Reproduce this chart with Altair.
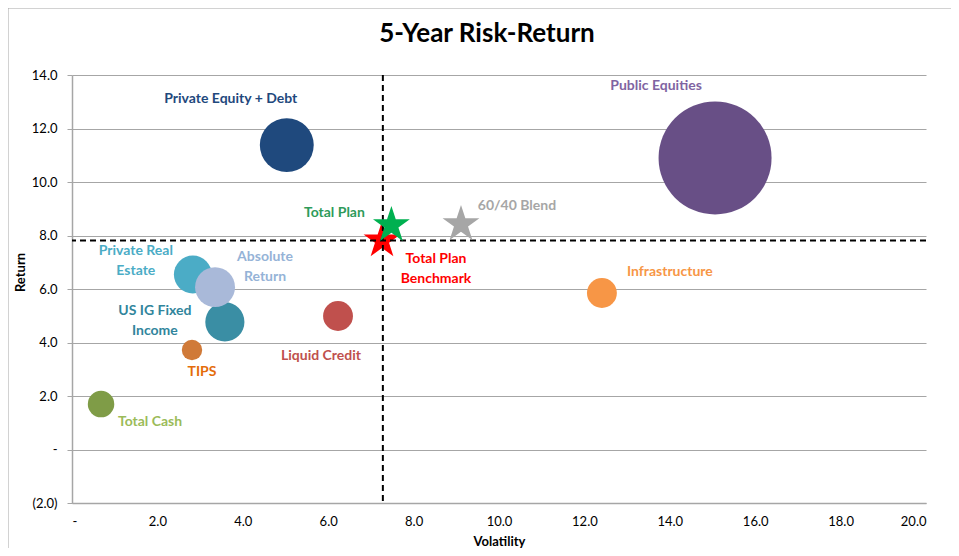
import altair as alt
import pandas as pd

# ---- data ----
names = ["Private Equity + Debt", "Public Equities", "Private Real Estate",
         "US IG Fixed Income", "Absolute Return", "TIPS", "Total Cash",
         "Liquid Credit", "Infrastructure"]
labels = ["Private Equity + Debt", "Public Equities", "Private Real\nEstate",
          "US IG Fixed\nIncome", "Absolute\nReturn", "TIPS", "Total Cash",
          "Liquid Credit", "Infrastructure"]
volatility = [5.03, 15.06, 2.83, 3.58, 3.35, 2.81, 0.68, 6.23, 12.41]
returns = [11.38, 10.90, 6.54, 4.77, 6.07, 3.72, 1.70, 4.99, 5.85]
weights = [9.1, 40.0, 4.5, 4.8, 5.0, 1.3, 2.2, 2.8, 2.8]

star_names = ["Total Plan Benchmark", "Total Plan", "60/40 Blend"]
star_labels = ["Total Plan\nBenchmark", "Total Plan", "60/40 Blend"]
star_vol = [7.26, 7.48, 9.11]
star_ret = [7.81, 8.38, 8.42]

bench_vol = [7.28]
bench_ret = [7.81]

y_ticks = [-2, 0, 2, 4, 6, 8, 10, 12, 14]
x_ticks = [0, 2, 4, 6, 8, 10, 12, 14, 16, 18, 20]

# ---- styles ----
bubble_colors = ["#1F497D", "#684F86", "#4BACC6", "#3A8EA4", "#A9B9D9",
                 "#D07A38", "#7F9C47", "#C0504D", "#F79646"]
label_colors = {"Private Equity + Debt": "#1F497D", "Public Equities": "#8064A2",
                "Private Real Estate": "#4BACC6", "US IG Fixed Income": "#31859C",
                "Absolute Return": "#95B3D7", "TIPS": "#E46C0A",
                "Total Cash": "#9BBB59", "Liquid Credit": "#C0504D",
                "Infrastructure": "#F79646", "Total Plan": "#2E9B5A",
                "Total Plan Benchmark": "#FF0000", "60/40 Blend": "#A6A6A6"}
label_offsets = {"Private Equity + Debt": (-56, -46), "Public Equities": (-59, -72),
                 "Private Real Estate": (-57, -24), "US IG Fixed Income": (-70, -11),
                 "Absolute Return": (50, -30), "TIPS": (10, 22),
                 "Total Cash": (49, 18), "Liquid Credit": (-17, 40),
                 "Infrastructure": (68, -21), "Total Plan": (-57, -12),
                 "Total Plan Benchmark": (54, 18), "60/40 Blend": (56, -18)}
star_colors = {"Total Plan Benchmark": "#FF0000", "Total Plan": "#00B050",
               "60/40 Blend": "#A6A6A6"}
STAR = ("M0,-1L0.225,-0.309L0.951,-0.309L0.363,0.118L0.588,0.809L0,0.382"
        "L-0.588,0.809L-0.363,0.118L-0.951,-0.309L-0.225,-0.309Z")
FONT = "Lato"

df = pd.DataFrame({"name": names, "label": labels, "vol": volatility,
                   "ret": returns, "weight": weights})
sdf = pd.DataFrame({"name": star_names, "label": star_labels,
                    "vol": star_vol, "ret": star_ret})
bdf = pd.DataFrame({"vol": bench_vol, "ret": bench_ret})

fmt = ("datum.value == 0 ? '-' : (datum.value < 0 ? '(' + format(-datum.value, '.1f') + ')'"
       " : format(datum.value, '.1f'))")

x_enc = alt.X("vol:Q", scale=alt.Scale(domain=[0, 20], nice=False),
              axis=alt.Axis(values=x_ticks, title="Volatility", labelExpr=fmt,
                            grid=False, ticks=False, domainColor="#A6A6A6",
                            domainWidth=1.5, labelPadding=12, labelFontSize=13,
                            labelColor="#000000", titleFontSize=13,
                            titleFontWeight="bold", titlePadding=7,
                            labelFont=FONT, titleFont=FONT))
y_enc = alt.Y("ret:Q", scale=alt.Scale(domain=[-2, 14], nice=False),
              axis=alt.Axis(values=y_ticks, title="Return", labelExpr=fmt,
                            grid=True, gridColor="#A6A6A6", gridWidth=1.2,
                            ticks=True, tickSize=5, tickColor="#A6A6A6",
                            domainColor="#A6A6A6", domainWidth=1.5,
                            labelPadding=10, labelFontSize=13, labelColor="#000000",
                            titleFontSize=13, titleFontWeight="bold",
                            titlePadding=4, titleY=197,
                            labelFont=FONT, titleFont=FONT))

bubbles = alt.Chart(df).mark_circle(opacity=1).encode(
    x=x_enc, y=y_enc,
    size=alt.Size("weight:Q", scale=alt.Scale(domain=[0, 40], range=[0, 12769], zero=True),
                  legend=None),
    color=alt.Color("name:N", scale=alt.Scale(domain=names, range=bubble_colors),
                    legend=None),
)

hline = alt.Chart(bdf).mark_rule(color="black", strokeWidth=2, strokeDash=[6, 4]).encode(
    y=alt.Y("ret:Q"))
vline = alt.Chart(bdf).mark_rule(color="black", strokeWidth=2, strokeDash=[6, 4]).encode(
    x=alt.X("vol:Q"))


def star(n):
    return alt.Chart(sdf).transform_filter(alt.datum.name == n).mark_point(
        shape=STAR, filled=True, opacity=1, size=1500, color=star_colors[n],
        strokeWidth=0).encode(x="vol:Q", y="ret:Q")


def label(src, n):
    dx, dy = label_offsets[n]
    return alt.Chart(src).transform_filter(alt.datum.name == n).mark_text(
        dx=dx, dy=dy, color=label_colors[n], font=FONT, fontSize=14,
        fontWeight="bold", lineBreak="\n", lineHeight=20, align="center",
        baseline="middle").encode(x="vol:Q", y="ret:Q", text="label:N")


border_left = alt.Chart(bdf).mark_rule(color="#A6A6A6", strokeWidth=1).encode(
    x=alt.value(-64), y=alt.value(-70), y2=alt.value(500))
border_top = alt.Chart(bdf).mark_rule(color="#A6A6A6", strokeWidth=1).encode(
    y=alt.value(-67), x=alt.value(-64), x2=alt.value(900))

layers = [border_left, border_top, bubbles, star("Total Plan Benchmark"), hline, vline,
          star("Total Plan"), star("60/40 Blend")]
layers += [label(df, n) for n in names]
layers += [label(sdf, n) for n in star_names]

chart = alt.layer(*layers).properties(
    width=854, height=428,
    title=alt.TitleParams("5-Year Risk-Return", fontSize=26, font=FONT,
                          fontWeight="bold", color="#000000", anchor="middle",
                          offset=0, dy=63, dx=-12, baseline="alphabetic"),
    autosize=alt.AutoSizeParams(type="none"),
    padding={"left": 64, "top": 67, "right": 25, "bottom": 45},
).configure_view(stroke=None)

chart.save("out.html", embed_options={"renderer": "svg", "actions": False})
